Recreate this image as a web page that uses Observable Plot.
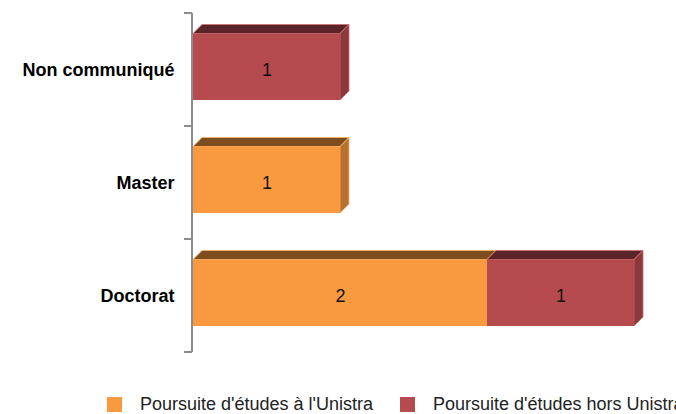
<!DOCTYPE html>
<html>
<head>
<meta charset="utf-8">
<script src="https://cdn.jsdelivr.net/npm/d3@7"></script>
<script src="https://cdn.jsdelivr.net/npm/@observablehq/plot@0.6"></script>
<style>
  html, body { margin: 0; padding: 0; background: #fff; width: 676px; height: 414px; overflow: hidden; }
  #legend { display: flex; align-items: center; height: 22px; margin-top: 8px; padding-left: 107px;
            font-family: "Liberation Sans", Arial, sans-serif; font-size: 18px; color: #222; white-space: nowrap; }
  #legend .sw { width: 15px; height: 15px; flex: none; margin-right: 18px; }
  #legend .item { display: flex; align-items: center; margin-right: 27px; }
</style>
</head>
<body>
<div id="chart"></div>
<div id="legend"></div>
<script>
// ---- data ----
const categories = ["Non communiqué", "Master", "Doctorat"];
const series = ["Poursuite d'études à l'Unistra", "Poursuite d'études hors Unistra"];
const unistra = [0, 1, 2];
const horsUnistra = [1, 0, 1];

// ---- styles ----
const frontColors = ["#F99A40", "#B54B4F"];
const topColors = ["#7D4C1F", "#5B2428"];
const sideColors = ["#B8712F", "#8D383C"];
const edgeColors = ["#FDB26A", "#CE6E72"];
const depth = 9;
const insetTop = 20.5, insetBottom = 26;

// ---- table (stacked) ----
const seriesValues = [unistra, horsUnistra];
const rows = [];
categories.forEach((cat, i) => {
  let acc = 0;
  series.forEach((s, j) => {
    const v = seriesValues[j][i];
    if (v > 0) rows.push({cat, series: s, si: j, value: v, x1: acc, x2: acc + v});
    acc += v;
  });
});

function faces(index, scales, values, dimensions) {
  const x = scales.x, y = scales.y;
  const bw = y.bandwidth ? y.bandwidth()
    : (dimensions.height - dimensions.marginTop - dimensions.marginBottom) / categories.length;
  const g = d3.create("svg:g");
  for (const r of rows) {
    const xa = x(r.x1), xb = x(r.x2);
    const yt = y(r.cat) + insetTop, yb = y(r.cat) + bw - insetBottom;
    g.append("polygon")
      .attr("points", [[xa, yt], [xa + depth, yt - depth], [xb + depth, yt - depth], [xb, yt]].join(" "))
      .attr("fill", topColors[r.si]).attr("stroke", edgeColors[r.si]).attr("stroke-width", 0.8);
    g.append("polygon")
      .attr("points", [[xb, yt], [xb + depth, yt - depth], [xb + depth, yb - depth], [xb, yb]].join(" "))
      .attr("fill", sideColors[r.si]).attr("stroke", edgeColors[r.si]).attr("stroke-width", 0.8);
  }
  return g.node();
}

function axis(index, scales, values, dimensions) {
  const x = scales.x, y = scales.y;
  const bw = y.bandwidth ? y.bandwidth()
    : (dimensions.height - dimensions.marginTop - dimensions.marginBottom) / categories.length;
  const x0 = x(0) - 1;
  const bounds = categories.map(c => y(c)).concat([y(categories[categories.length - 1]) + bw]);
  const g = d3.create("svg:g").attr("stroke", "#8C8C8C").attr("stroke-width", 2).attr("fill", "none");
  g.append("line").attr("x1", x0).attr("x2", x0).attr("y1", bounds[0]).attr("y2", bounds[bounds.length - 1]);
  for (const b of bounds) g.append("line").attr("x1", x0 - 8).attr("x2", x0).attr("y1", b).attr("y2", b);
  return g.node();
}

const chart = Plot.plot({
  width: 676,
  height: 385,
  marginTop: 12,
  marginBottom: 32,
  marginLeft: 193,
  marginRight: 42,
  style: {fontFamily: "'Liberation Sans', Arial, sans-serif", background: "#fff"},
  x: {domain: [0, 3], range: [193, 634], axis: null},
  y: {domain: categories, padding: 0, axis: null},
  color: {domain: series, range: frontColors},
  marks: [
    faces,
    Plot.barX(rows, {x1: "x1", x2: "x2", y: "cat", fill: "series", insetTop, insetBottom}),
    axis,
    Plot.text(rows, {x: d => (d.x1 + d.x2) / 2, y: "cat", text: d => String(d.value), fontSize: 18, fill: "#111"}),
    Plot.text(categories, {x: () => 0, y: d => d, text: d => d, textAnchor: "end", dx: -19, fontSize: 18, fontWeight: "bold", fill: "#000"})
  ]
});
document.getElementById("chart").appendChild(chart);

// ---- legend ----
const legend = d3.select("#legend");
series.forEach((s, j) => {
  const item = legend.append("div").attr("class", "item");
  item.append("div").attr("class", "sw").style("background", frontColors[j]);
  item.append("span").text(s);
});
</script>
</body>
</html>
